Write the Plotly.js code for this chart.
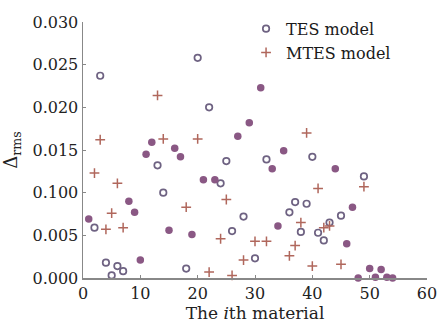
<!DOCTYPE html>
<html>
<head>
<meta charset="utf-8">
<script src="https://cdn.plot.ly/plotly-3.0.1.min.js"></script>
<style>html,body{margin:0;padding:0;background:#fff}#chart{width:444px;height:326px}</style>
</head>
<body>
<div id="chart"></div>
<script>
// TES model (open circles)
const tesX = [2, 3, 4, 5, 6, 7, 13, 14, 18, 20, 22, 24, 25, 26, 28, 30, 32, 36, 37, 38, 39, 40, 41, 42, 43, 45, 49];
const tesY = [0.0059, 0.0237, 0.0018, 0.0003, 0.0014, 0.0008, 0.0132, 0.0100, 0.0011, 0.0258, 0.0200, 0.0111, 0.0137, 0.0055, 0.0072, 0.0023, 0.0139, 0.0077, 0.0089, 0.0054, 0.0087, 0.0142, 0.0053, 0.0044, 0.0065, 0.0073, 0.0119];
// MTES model (crosses)
const mtesX = [2, 3, 4, 5, 6, 7, 13, 14, 18, 20, 22, 24, 25, 26, 28, 30, 32, 36, 37, 38, 39, 40, 41, 42, 43, 45, 49];
const mtesY = [0.0123, 0.0162, 0.0057, 0.0076, 0.0111, 0.0059, 0.0214, 0.0163, 0.0083, 0.0163, 0.0007, 0.0046, 0.0092, 0.0003, 0.0021, 0.0043, 0.0043, 0.0026, 0.0038, 0.0065, 0.0170, 0.0014, 0.0105, 0.0059, 0.0061, 0.0016, 0.0107];
// Coinciding results (filled circles)
const bothX = [1, 8, 9, 10, 11, 12, 15, 16, 17, 19, 21, 23, 27, 29, 31, 33, 34, 35, 44, 46, 47, 48, 50, 51, 52, 53, 54];
const bothY = [0.0069, 0.0090, 0.0077, 0.0021, 0.0145, 0.0159, 0.0056, 0.0152, 0.0142, 0.0051, 0.0115, 0.0115, 0.0166, 0.0182, 0.0223, 0.0128, 0.0061, 0.0149, 0.0128, 0.0040, 0.0083, 0.0000, 0.0011, 0.0001, 0.0010, 0.0001, 0.0000];
// Tick labels (as printed)
const yTickVals = [0, 0.005, 0.010, 0.015, 0.020, 0.025, 0.030];
const yTickText = ["0.000", "0.005", "0.100", "0.015", "0.020", "0.025", "0.030"];
const xTickVals = [0, 10, 20, 30, 40, 50, 60];

const FONT = "DejaVu Serif, Liberation Serif, serif";
const traces = [
  {x: tesX, y: tesY, type: "scatter", mode: "markers", name: "TES model",
   marker: {symbol: "circle-open", size: 6.5, color: "#6e6282", line: {width: 1.7, color: "#6e6282"}}, cliponaxis: false},
  {x: mtesX, y: mtesY, type: "scatter", mode: "markers", name: "MTES model",
   marker: {symbol: "cross-thin", size: 7, color: "#b0675c", line: {width: 1.5, color: "#b0675c"}}, cliponaxis: false},
  {x: bothX, y: bothY, type: "scatter", mode: "markers", name: "both", showlegend: false,
   marker: {symbol: "circle", size: 7.5, color: "#8a5884"}, cliponaxis: false}
];
const layout = {
  width: 444, height: 326,
  margin: {l: 83, r: 17, t: 17, b: 48},
  paper_bgcolor: "#fff", plot_bgcolor: "#fff",
  font: {family: FONT, size: 16, color: "#222"},
  showlegend: true,
  legend: {x: 0.474, y: 1.04, xanchor: "left", yanchor: "top", bgcolor: "rgba(0,0,0,0)",
           font: {family: FONT, size: 16, color: "#1a1a1a"}, itemwidth: 30, tracegroupgap: 0},
  xaxis: {range: [0, 60], tickvals: xTickVals, ticks: "inside", ticklen: 3, tickcolor: "#888",
          showline: true, linecolor: "#888", linewidth: 1.5, showgrid: false, zeroline: false,
          tickfont: {family: FONT, size: 16, color: "#222"},
          title: {text: "The <i>i</i>th material", font: {family: FONT, size: 17, color: "#222"}, standoff: 2}},
  yaxis: {range: [0, 0.030], tickvals: yTickVals, ticktext: yTickText, ticks: "inside", ticklen: 3, tickcolor: "#888",
          showline: true, linecolor: "#888", linewidth: 1.5, showgrid: false, zeroline: false,
          tickfont: {family: FONT, size: 16, color: "#222"},
          title: {text: "Δ<sub>rms</sub>", font: {family: FONT, size: 18, color: "#222"}, standoff: 12}}
};
Plotly.newPlot("chart", traces, layout, {displayModeBar: false, staticPlot: true});
</script>
</body>
</html>
